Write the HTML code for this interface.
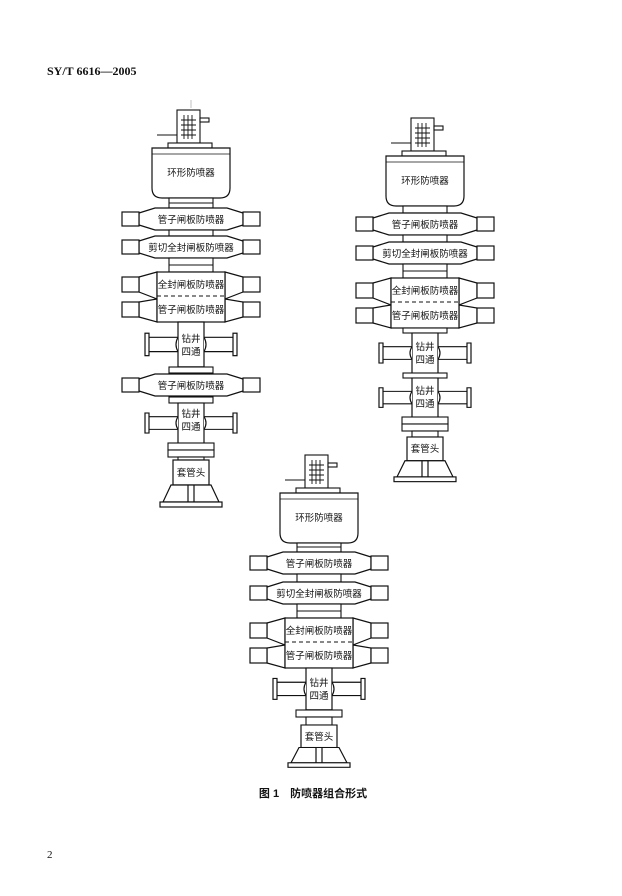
<!DOCTYPE html>
<html><head><meta charset="utf-8"><style>
html,body{margin:0;padding:0;background:#fff;}
svg{display:block;}
text{font-family:"Liberation Sans","Noto Sans CJK SC",sans-serif;fill:#111;}
</style></head><body>
<svg width="622" height="896" viewBox="0 0 622 896" xmlns="http://www.w3.org/2000/svg">
<defs>
<g id="hd" fill="#fff" stroke="#111" stroke-width="1.1">
<rect x="-14" y="0" width="23" height="33"/>
<path d="M-7,5V29M-3,5V29M1,5V29M-10,10H5M-10,15H5M-10,20H5M-10,25H5" stroke-width="0.9"/>
<rect x="9" y="8" width="9" height="4"/>
<path d="M-34,25H-14"/>
<rect x="-23" y="33" width="44" height="5"/>
</g>
<g id="ann" fill="#fff" stroke="#111" stroke-width="1.2">
<path d="M-39,0H39V40Q39,50 29,50H-29Q-39,50 -39,40Z"/>
<path d="M-39,6H39" stroke-width="0.8"/>
</g>
<g id="ram" fill="#fff" stroke="#111" stroke-width="1.2">
<path d="M-36,0H36L52,5V17L36,22H-36L-52,17V5Z"/>
<rect x="-69" y="4" width="17" height="14"/>
<rect x="52" y="4" width="17" height="14"/>
</g>
<g id="dbl" fill="#fff" stroke="#111" stroke-width="1.2">
<path d="M-34,0L-52,5V20L-34,27L-52,30V45L-34,50Z"/>
<path d="M34,0L52,5V20L34,27L52,30V45L34,50Z"/>
<rect x="-69" y="5" width="17" height="15"/>
<rect x="-69" y="30" width="17" height="15"/>
<rect x="52" y="5" width="17" height="15"/>
<rect x="52" y="30" width="17" height="15"/>
<rect x="-34" y="0" width="68" height="50"/>
<path d="M-34,24H34" stroke-dasharray="4,3" stroke-width="0.9"/>
</g>
<g id="crs" fill="#fff" stroke="#111" stroke-width="1.2">
<rect x="-13" y="0" width="26" height="44"/>
<path d="M-13,15Q-17,22 -13,29M13,15Q17,22 13,29"/>
<path d="M-13,15H-42M-13,29H-42M13,15H42M13,29H42"/>
<rect x="-46" y="11" width="4" height="22"/>
<rect x="42" y="11" width="4" height="22"/>
</g>
<g id="csg" fill="#fff" stroke="#111" stroke-width="1.2">
<rect x="-18" y="0" width="36" height="25"/>
<path d="M-20,25H20L28,42H-28Z"/>
<path d="M-3,25V42M3,25V42"/>
<rect x="-31" y="42" width="62" height="5"/>
</g>
</defs>

<text x="47" y="75" font-family="Liberation Serif" font-weight="bold" font-size="12" style="font-family:'Liberation Serif',serif">SY/T 6616—2005</text>

<!-- Diagram 1 -->
<g transform="translate(191,0)" font-size="9.5" text-anchor="middle">
<line x1="0" y1="100" x2="0" y2="200" stroke="#999" stroke-width="0.6" stroke-dasharray="8,2,2,2"/>
<use href="#hd" y="110"/>
<use href="#ann" y="148"/>
<text y="176">环形防喷器</text>
<rect x="-22" y="198" width="44" height="10" fill="#fff" stroke="#111" stroke-width="1.1"/><line x1="-22" y1="203" x2="22" y2="203" stroke="#111"/>
<use href="#ram" y="208"/><text y="223">管子闸板防喷器</text>
<rect x="-22" y="230" width="44" height="6" fill="#fff" stroke="#111" stroke-width="1.1"/>
<use href="#ram" y="236"/><text y="251">剪切全封闸板防喷器</text>
<rect x="-22" y="258" width="44" height="14" fill="#fff" stroke="#111" stroke-width="1.1"/><line x1="-22" y1="265" x2="22" y2="265" stroke="#111"/>
<use href="#dbl" y="272"/><text y="288">全封闸板防喷器</text><text y="313">管子闸板防喷器</text>
<use href="#crs" y="322" transform="translate(0,322) scale(1,1.02) translate(0,-322)"/><text y="342">钻井</text><text y="355">四通</text>
<rect x="-22" y="367" width="44" height="6" fill="#fff" stroke="#111" stroke-width="1.1"/>
<use href="#ram" y="374"/><text y="389">管子闸板防喷器</text>
<rect x="-22" y="397" width="44" height="6" fill="#fff" stroke="#111" stroke-width="1.1"/>
<use href="#crs" transform="translate(0,403) scale(1,0.91)"/><text y="417">钻井</text><text y="430">四通</text>
<rect x="-23" y="443" width="46" height="7" fill="#fff" stroke="#111" stroke-width="1.1"/>
<rect x="-23" y="450" width="46" height="7" fill="#fff" stroke="#111" stroke-width="1.1"/>
<rect x="-13" y="457" width="26" height="3" fill="#fff" stroke="#111" stroke-width="1.1"/>
<use href="#csg" y="460"/><text y="476">套管头</text>
</g>

<!-- Diagram 2 -->
<g transform="translate(425,0)" font-size="9.5" text-anchor="middle">
<use href="#hd" y="118"/>
<use href="#ann" y="156"/>
<text y="184">环形防喷器</text>
<rect x="-22" y="206" width="44" height="7" fill="#fff" stroke="#111" stroke-width="1.1"/>
<use href="#ram" y="213"/><text y="228">管子闸板防喷器</text>
<rect x="-22" y="235" width="44" height="7" fill="#fff" stroke="#111" stroke-width="1.1"/>
<use href="#ram" y="242"/><text y="257">剪切全封闸板防喷器</text>
<rect x="-22" y="264" width="44" height="14" fill="#fff" stroke="#111" stroke-width="1.1"/><line x1="-22" y1="271" x2="22" y2="271" stroke="#111"/>
<use href="#dbl" y="278"/><text y="294">全封闸板防喷器</text><text y="319">管子闸板防喷器</text>
<rect x="-22" y="328" width="44" height="5" fill="#fff" stroke="#111" stroke-width="1.1"/>
<use href="#crs" transform="translate(0,333) scale(1,0.91)"/><text y="350">钻井</text><text y="363">四通</text>
<rect x="-22" y="373" width="44" height="5" fill="#fff" stroke="#111" stroke-width="1.1"/>
<use href="#crs" transform="translate(0,378) scale(1,0.89)"/><text y="394">钻井</text><text y="407">四通</text>
<rect x="-23" y="417" width="46" height="7" fill="#fff" stroke="#111" stroke-width="1.1"/>
<rect x="-23" y="424" width="46" height="7" fill="#fff" stroke="#111" stroke-width="1.1"/>
<rect x="-13" y="431" width="26" height="6" fill="#fff" stroke="#111" stroke-width="1.1"/>
<use href="#csg" transform="translate(0,437) scale(1,0.95)"/><text y="452">套管头</text>
</g>

<!-- Diagram 3 -->
<g transform="translate(319,0)" font-size="9.5" text-anchor="middle">
<use href="#hd" y="455"/>
<use href="#ann" y="493"/>
<text y="521">环形防喷器</text>
<rect x="-22" y="543" width="44" height="9" fill="#fff" stroke="#111" stroke-width="1.1"/><line x1="-22" y1="547" x2="22" y2="547" stroke="#111"/>
<use href="#ram" y="552"/><text y="567">管子闸板防喷器</text>
<rect x="-22" y="574" width="44" height="8" fill="#fff" stroke="#111" stroke-width="1.1"/>
<use href="#ram" y="582"/><text y="597">剪切全封闸板防喷器</text>
<rect x="-22" y="604" width="44" height="14" fill="#fff" stroke="#111" stroke-width="1.1"/><line x1="-22" y1="611" x2="22" y2="611" stroke="#111"/>
<use href="#dbl" y="618"/><text y="634">全封闸板防喷器</text><text y="659">管子闸板防喷器</text>
<use href="#crs" transform="translate(0,668) scale(1,0.95)"/><text y="686">钻井</text><text y="699">四通</text>
<rect x="-23" y="710" width="46" height="7" fill="#fff" stroke="#111" stroke-width="1.1"/>
<rect x="-13" y="717" width="26" height="8" fill="#fff" stroke="#111" stroke-width="1.1"/>
<use href="#csg" transform="translate(0,725) scale(1,0.9)"/><text y="740">套管头</text>
</g>

<text x="313" y="797" text-anchor="middle" font-size="11" font-weight="bold">图 1　防喷器组合形式</text>
<text x="47" y="858" font-size="11" style="font-family:'Liberation Serif',serif">2</text>
</svg>
</body></html>
